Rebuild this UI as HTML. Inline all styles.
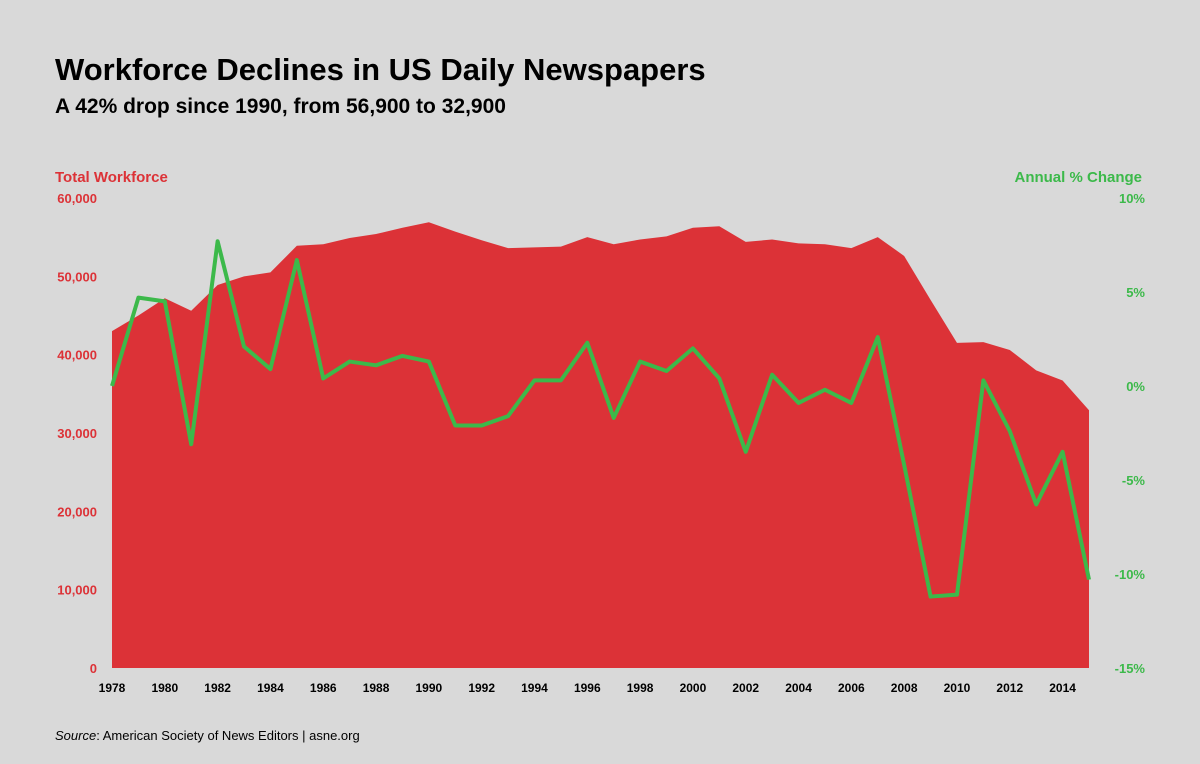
<!DOCTYPE html>
<html><head><meta charset="utf-8"><style>
body{margin:0;background:#d9d9d9;}
svg{display:block;font-family:"Liberation Sans",sans-serif;}
</style></head><body>
<svg id="chart" width="1200" height="764">
<rect width="1200" height="764" fill="#d9d9d9"/>
<text x="55" y="80" font-size="31" font-weight="bold" fill="#000">Workforce Declines in US Daily Newspapers</text>
<text x="55" y="113" font-size="21" font-weight="bold" fill="#000">A 42% drop since 1990, from 56,900 to 32,900</text>
<text x="55" y="182" font-size="15" font-weight="bold" fill="#dc3237">Total Workforce</text>
<text x="1142" y="182" font-size="15" font-weight="bold" fill="#3cb94a" text-anchor="end">Annual % Change</text>
<text x="55" y="740" font-size="13" fill="#000"><tspan font-style="italic">Source</tspan>: American Society of News Editors | asne.org</text>
<g id="marks"></g>
</svg>
<script>
const years=[1978,1979,1980,1981,1982,1983,1984,1985,1986,1987,1988,1989,1990,1991,1992,1993,1994,1995,1996,1997,1998,1999,2000,2001,2002,2003,2004,2005,2006,2007,2008,2009,2010,2011,2012,2013,2014,2015];
const workforce=[43000,45000,47200,45600,48900,50000,50500,53900,54100,54900,55400,56200,56900,55700,54600,53600,53700,53800,55000,54100,54700,55100,56200,56400,54400,54700,54200,54100,53600,55000,52600,47000,41500,41600,40600,38000,36700,32900];
const pctChange=[0.0,4.7,4.5,-3.1,7.7,2.1,0.9,6.7,0.4,1.3,1.1,1.6,1.3,-2.1,-2.1,-1.6,0.3,0.3,2.3,-1.7,1.3,0.8,2.0,0.4,-3.5,0.6,-0.9,-0.2,-0.9,2.6,-4.2,-11.2,-11.1,0.3,-2.4,-6.3,-3.5,-10.3];
const leftTicks=[0,10000,20000,30000,40000,50000,60000];
const rightTicks=[-15,-10,-5,0,5,10];
const xTicks=[1978,1980,1982,1984,1986,1988,1990,1992,1994,1996,1998,2000,2002,2004,2006,2008,2010,2012,2014];

const NS="http://www.w3.org/2000/svg";
const g=document.getElementById('marks');
const x=v=>112+(v-1978)*(1089-112)/(2015-1978);
const yL=v=>668-v*470/60000;
const yR=v=>668-(v+15)*470/25;
function mk(t,a){const e=document.createElementNS(NS,t);for(const k in a)e.setAttribute(k,a[k]);g.appendChild(e);return e;}

let d='M'+x(years[0])+','+yL(0);
years.forEach((yr,i)=>{d+=' L'+x(yr)+','+yL(workforce[i]);});
d+=' L'+x(years[years.length-1])+','+yL(0)+' Z';
const area=mk('path',{d:d,fill:'#dc3237'});



let ld='';
years.forEach((yr,i)=>{ld+=(i?' L':'M')+x(yr)+','+yR(pctChange[i]);});
const line=mk('path',{d:ld,fill:'none',stroke:'#3cb94a','stroke-width':4,'stroke-linejoin':'round'});



leftTicks.forEach(v=>{
  const t=mk('text',{x:97,y:yL(v)+5,'text-anchor':'end','font-size':13,'font-weight':'bold',fill:'#dc3237'});
  t.textContent=v===0?'0':v.toLocaleString('en-US');
  
  
});
rightTicks.forEach(v=>{
  const t=mk('text',{x:1145,y:yR(v)+5,'text-anchor':'end','font-size':13,'font-weight':'bold',fill:'#3cb94a'});
  t.textContent=v+'%';
  
  
});
xTicks.forEach(v=>{
  const t=mk('text',{x:x(v),y:692,'text-anchor':'middle','font-size':12,'font-weight':'bold',fill:'#000'});
  t.textContent=v;
  
  
});
</script>
</body></html>
